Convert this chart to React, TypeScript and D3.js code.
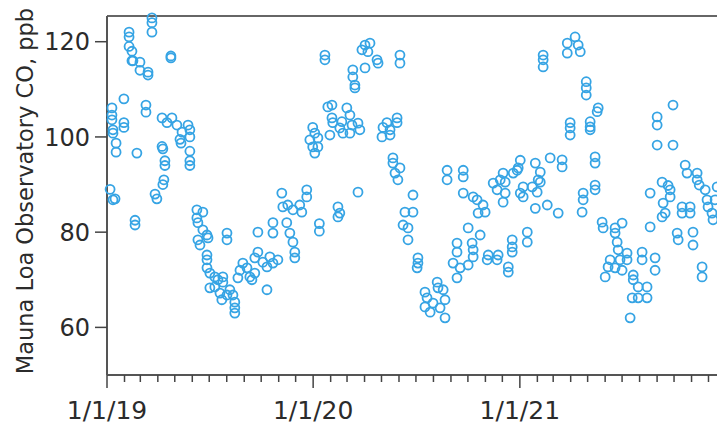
import React from "react";
import * as d3 from "d3";

// Mauna Loa CO samples, [fraction of year, ppb]
const obs2019: [number, number][] = [
  [0.015, 89], [0.039, 87], [0.029, 86.8], [0.024, 106.1], [0.024, 104.6], [0.024, 103.6], [0.029, 101.5], [0.029, 100.8], [0.044, 98.7], [0.044, 96.8],
  [0.082, 108], [0.082, 103], [0.082, 102], [0.145, 96.6], [0.136, 82.5], [0.136, 81.5],
  [0.107, 122], [0.107, 121], [0.107, 119], [0.121, 118], [0.121, 116], [0.126, 116], [0.16, 115.7], [0.16, 114], [0.199, 113.6], [0.199, 113],
  [0.218, 125], [0.218, 124], [0.218, 122], [0.31, 117], [0.31, 116.6],
  [0.189, 106.7], [0.189, 105.2],
  [0.267, 104], [0.291, 103], [0.315, 104], [0.339, 102.5], [0.364, 101], [0.393, 102.5], [0.402, 101.5], [0.402, 100], [0.267, 98], [0.271, 97.5],
  [0.281, 95], [0.281, 94], [0.276, 91], [0.271, 90], [0.233, 88], [0.242, 87], [0.354, 99.5], [0.359, 98.7], [0.402, 97], [0.402, 95], [0.402, 94],
  [0.436, 84.7], [0.465, 84.2], [0.436, 83], [0.441, 82], [0.465, 80.5], [0.485, 79.4], [0.441, 78.4], [0.451, 77.3], [0.49, 78.8],
  [0.485, 75.2], [0.485, 74.2], [0.485, 72.5], [0.499, 71.4], [0.523, 70.6], [0.538, 70], [0.562, 70.6], [0.562, 69.5],
  [0.499, 68.3], [0.523, 68.5], [0.548, 67.2], [0.557, 65.8], [0.582, 66.8], [0.596, 67.9], [0.611, 66.8], [0.62, 65.3], [0.62, 64.1], [0.62, 63],
  [0.582, 79.8], [0.582, 78.4],
  [0.635, 70.4], [0.645, 72], [0.659, 73.5], [0.679, 72.5], [0.693, 70.6], [0.703, 70], [0.717, 71.4],
  [0.717, 74.6], [0.732, 75.8], [0.756, 73.7], [0.776, 72.7], [0.79, 74.8], [0.805, 73.5], [0.829, 74.2],
  [0.732, 80], [0.776, 67.9], [0.805, 82], [0.805, 79.8], [0.872, 82],
  [0.848, 88.2], [0.853, 85.3], [0.877, 85.7], [0.902, 84.7], [0.935, 85.7], [0.945, 84.2], [0.969, 88.9], [0.969, 87.4],
  [0.887, 79.8], [0.902, 77.9], [0.911, 75.8], [0.911, 74.6],
  [0.984, 99.4], [0.998, 102], [0.998, 97.9],
];

const obs2020: [number, number][] = [
  [0.008, 100.8], [0.023, 99.8], [0.023, 97.9], [0.008, 96.6],
  [0.03, 81.8], [0.03, 80.2], [0.12, 85.3], [0.129, 84], [0.12, 83.2], [0.217, 88.4],
  [0.057, 117.2], [0.057, 116.2],
  [0.091, 106.7], [0.071, 106.3], [0.163, 106.1], [0.178, 104.6], [0.091, 104], [0.095, 103], [0.139, 103.2], [0.129, 101.9], [0.144, 100.8],
  [0.188, 102.5], [0.217, 102.9], [0.226, 101.5], [0.178, 100.8], [0.081, 100.4],
  [0.236, 118.3], [0.251, 119.3], [0.275, 119.7], [0.265, 117.9], [0.309, 116.2], [0.314, 115.5], [0.192, 114.1], [0.192, 112.6], [0.202, 110.9], [0.202, 110.3], [0.251, 114.5],
  [0.42, 117.2], [0.42, 115.5],
  [0.333, 100], [0.338, 102], [0.357, 103], [0.372, 101.5], [0.406, 104], [0.406, 103], [0.372, 100.4],
  [0.386, 95.6], [0.386, 94.5], [0.42, 93.5], [0.396, 92.4], [0.41, 91],
  [0.483, 87.8], [0.444, 84.2], [0.483, 84.2], [0.435, 81.5], [0.459, 80.9], [0.459, 78.4],
  [0.507, 74.6], [0.507, 73.5], [0.503, 72.5],
  [0.541, 67.4], [0.551, 66.2], [0.541, 64.3], [0.566, 63.2], [0.58, 65.1], [0.6, 69.5], [0.604, 68.3], [0.629, 67.9], [0.638, 65.8], [0.614, 64.1], [0.638, 62],
  [0.648, 93], [0.648, 91], [0.726, 93], [0.726, 91.6], [0.726, 88.2], [0.774, 87.4],
  [0.793, 86.8], [0.822, 85.7], [0.798, 84], [0.832, 84.2],
  [0.75, 80.9], [0.808, 79.4], [0.769, 77.7], [0.774, 76.3], [0.696, 77.7], [0.696, 75.8], [0.677, 73.5], [0.711, 72.5], [0.696, 70.4], [0.75, 73.1], [0.774, 74.8],
  [0.847, 75.2], [0.895, 75.2], [0.89, 74.2], [0.842, 74.2],
  [0.963, 78.4], [0.963, 76.9], [0.963, 75.8], [0.944, 72.7], [0.944, 71.6],
  [0.871, 90.3], [0.89, 88.9], [0.905, 91], [0.919, 92.4], [0.929, 88.2], [0.968, 92.4], [0.987, 93],
  [0.919, 86.3], [0.929, 90.5], [0.992, 93.5],
];

const obs2021: [number, number][] = [
  [0.002, 95.1], [0.002, 88.2], [0.016, 89.5], [0.06, 89.5], [0.016, 87.4],
  [0.036, 80], [0.036, 77.9], [0.075, 85], [0.133, 85.7], [0.186, 84],
  [0.307, 88.2], [0.307, 86.8], [0.302, 84.2], [0.365, 89.9], [0.365, 88.9],
  [0.399, 82.1], [0.404, 80.9], [0.462, 80.9], [0.462, 79.8], [0.496, 81.9], [0.472, 77.9], [0.477, 76.3], [0.52, 75.6], [0.52, 74.2],
  [0.438, 74.2], [0.428, 72.7], [0.414, 70.6], [0.462, 72.5], [0.486, 74.2], [0.496, 72],
  [0.55, 71], [0.55, 70], [0.574, 68.5], [0.545, 66.2], [0.574, 66.2], [0.617, 68.5], [0.617, 66.2], [0.535, 62],
  [0.593, 75.8], [0.593, 74.2], [0.656, 74.6], [0.656, 72], [0.632, 81.1],
  [0.632, 88.2], [0.695, 86.1], [0.705, 84], [0.69, 83.2], [0.719, 89.8], [0.729, 87.4], [0.729, 88.9], [0.69, 90.5],
  [0.763, 79.8], [0.768, 78.4], [0.84, 80], [0.84, 77.3],
  [0.787, 85.3], [0.787, 84], [0.826, 85.3], [0.826, 84],
  [0.884, 72.7], [0.884, 70.6],
  [0.899, 88.9], [0.908, 86.8], [0.913, 85.3], [0.932, 84], [0.937, 82.6], [0.947, 86.8], [0.957, 89.5],
  [0.802, 94.1], [0.811, 92.4], [0.86, 92.4], [0.86, 91], [0.87, 89.9],
  [0.113, 117.2], [0.113, 116.2], [0.113, 114.7],
  [0.23, 119.7], [0.23, 117.6], [0.268, 121], [0.283, 119.3], [0.293, 117.9],
  [0.322, 111.6], [0.322, 110.3], [0.322, 108.8],
  [0.38, 106.1], [0.375, 105.3],
  [0.244, 103], [0.244, 101.9], [0.244, 100.4],
  [0.341, 103.2], [0.341, 102.1], [0.341, 101.5],
  [0.365, 95.8], [0.365, 94.5],
  [0.666, 104.2], [0.666, 102.5], [0.743, 106.7], [0.666, 98.3], [0.743, 98.3],
  [0.147, 95.6], [0.205, 95.2], [0.205, 93.7], [0.075, 94.5], [0.099, 92.6], [0.089, 91],
  [0.099, 90.5], [0.084, 88.4],
];

const yTicks = [60, 80, 100, 120];
const xLabelYears = [2019, 2020, 2021];
const yTitle = "Mauna Loa Observatory CO, ppb";

function toDate(year: number, frac: number) {
  const a = new Date(year, 0, 1).getTime();
  const b = new Date(year + 1, 0, 1).getTime();
  return new Date(a + frac * (b - a));
}

const points = [
  ...obs2019.map(([f, v]) => ({ date: toDate(2019, f), value: v })),
  ...obs2020.map(([f, v]) => ({ date: toDate(2020, f), value: v })),
  ...obs2021.map(([f, v]) => ({ date: toDate(2021, f), value: v })),
];

export default function App() {
  const width = 717;
  const height = 425;
  const left = 107;
  const top = 16;
  const bottom = 375;

  const x = d3
    .scaleTime()
    .domain([new Date(2019, 0, 1), new Date(2022, 0, 1)])
    .range([left, 726]);
  const y = d3.scaleLinear().domain([50, 125.4]).range([bottom, top]);

  const months = x.ticks(d3.timeMonth.every(1)!);
  const fmt = d3.timeFormat("%-m/%-d/%y");
  const font = "'DejaVu Sans', Verdana, sans-serif";
  const ink = "#2b2b2b";

  return (
    <svg
      width={width}
      height={height}
      style={{ position: "absolute", left: 0, top: 0, background: "#fff" }}
    >
      {/* frame */}
      <line x1={left} x2={730} y1={top} y2={top} stroke="#666" strokeWidth={2} />
      <line x1={left} x2={left} y1={top} y2={bottom} stroke="#555" strokeWidth={2} />
      <line x1={left} x2={730} y1={bottom} y2={bottom} stroke="#555" strokeWidth={2} />

      {/* x ticks */}
      {months.map((m, i) => {
        const major = m.getMonth() === 0;
        return (
          <line
            key={i}
            x1={x(m)}
            x2={x(m)}
            y1={bottom}
            y2={bottom + (major ? 13 : 7)}
            stroke="#444"
            strokeWidth={1.5}
          />
        );
      })}
      {xLabelYears.map((yr) => {
        const d = new Date(yr, 0, 1);
        return (
          <text
            key={yr}
            x={x(d)}
            y={419}
            textAnchor="middle"
            fontFamily={font}
            fontSize={25}
            fill={ink}
          >
            {fmt(d)}
          </text>
        );
      })}

      {/* y ticks */}
      {yTicks.map((t) => (
        <g key={t}>
          <line x1={left - 12} x2={left} y1={y(t)} y2={y(t)} stroke="#444" strokeWidth={1.5} />
          <text
            x={90}
            y={y(t)}
            dy="0.36em"
            textAnchor="end"
            fontFamily={font}
            fontSize={24}
            fill={ink}
          >
            {t}
          </text>
        </g>
      ))}

      <text
        transform={`translate(33, 191) rotate(-90)`}
        textAnchor="middle"
        fontFamily={font}
        fontSize={22.5}
        fill={ink}
      >
        {yTitle}
      </text>

      {/* markers */}
      {points.map((p, i) => (
        <circle
          key={i}
          cx={x(p.date)}
          cy={y(p.value)}
          r={4.5}
          fill="none"
          stroke="#36a4e4"
          strokeWidth={1.8}
        />
      ))}
    </svg>
  );
}
